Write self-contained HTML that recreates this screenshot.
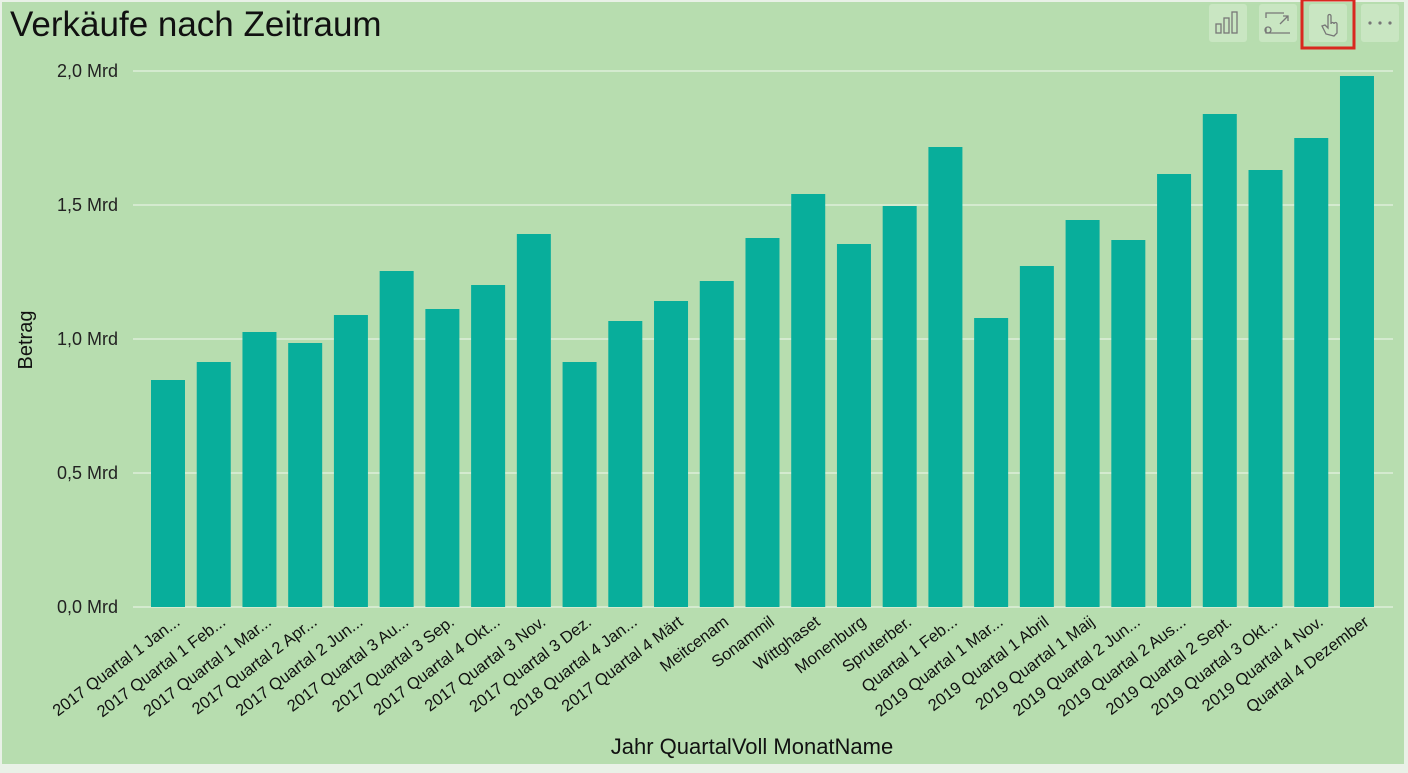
<!DOCTYPE html>
<html><head><meta charset="utf-8"><style>
html,body{margin:0;padding:0;}
body{width:1408px;height:768px;background:#e9f1e7;font-family:"Liberation Sans",sans-serif;overflow:hidden;}
</style></head><body>
<svg width="1408" height="768" xmlns="http://www.w3.org/2000/svg" font-family="Liberation Sans, sans-serif">
<rect x="2" y="2" width="1402" height="762" fill="#b7ddaf"/>
<text x="10" y="36" font-size="35" fill="#111">Verkäufe nach Zeitraum</text>
<g fill="#c9e6c2">
<rect x="1209" y="4" width="38" height="38" rx="3"/>
<rect x="1259" y="4" width="38" height="38" rx="3"/>
<rect x="1309" y="4" width="38" height="38" rx="3"/>
<rect x="1361" y="4" width="38" height="38" rx="3"/>
</g>
<g stroke="#777" stroke-width="1.3" fill="none">
<rect x="1216" y="24" width="5" height="9"/><rect x="1224" y="18" width="5" height="15"/><rect x="1232" y="12" width="5" height="21"/>
<path d="M1266 18 V13 H1284 M1266 28 V33 H1290 M1280 24 L1288 16 M1283 16 H1288 V21"/>
<circle cx="1268" cy="30" r="3"/>
<path d="M1326 34 L1322 26 L1325 25 L1328 28 V16 a1.5 1.5 0 0 1 3 0 V24 a1.5 1.5 0 0 1 3 0 a1.5 1.5 0 0 1 3 0 V33 L1334 36 Z"/>
</g>
<rect x="1302" y="0" width="52" height="48" fill="none" stroke="#d9281f" stroke-width="3"/>
<g fill="#777"><circle cx="1370" cy="23" r="1.6"/><circle cx="1380" cy="23" r="1.6"/><circle cx="1390" cy="23" r="1.6"/></g>
<g stroke="#e6f2e2" stroke-width="1.2">
<line x1="133" y1="71" x2="1393" y2="71"/><line x1="133" y1="205" x2="1393" y2="205"/><line x1="133" y1="339" x2="1393" y2="339"/><line x1="133" y1="473" x2="1393" y2="473"/><line x1="133" y1="607" x2="1393" y2="607"/>
</g>
<g font-size="18" fill="#222" text-anchor="end">
<text x="118" y="77">2,0 Mrd</text><text x="118" y="211">1,5 Mrd</text><text x="118" y="345">1,0 Mrd</text><text x="118" y="479">0,5 Mrd</text><text x="118" y="613">0,0 Mrd</text>
</g>
<text transform="translate(32,340) rotate(-90)" font-size="20" fill="#111" text-anchor="middle">Betrag</text>
<text x="752" y="754" font-size="22" fill="#111" text-anchor="middle">Jahr QuartalVoll MonatName</text>
<g id="bars" fill="#08ae9b"></g>
<g id="labels" font-size="16.5" fill="#111" text-anchor="end"></g>
<script>
var tops=[380,362,332,343,315,271,309,285,234,362,321,301,281,238,194,244,206,147,318,266,220,240,174,114,170,138,76];
var labs=["2017 Quartal 1 Jan...","2017 Quartal 1 Feb...","2017 Quartal 1 Mar...","2017 Quartal 2 Apr...","2017 Quartal 2 Jun...","2017 Quartal 3 Au...","2017 Quartal 3 Sep.","2017 Quartal 4 Okt...","2017 Quartal 3 Nov.","2017 Quartal 3 Dez.","2018 Quartal 4 Jan...","2017 Quartal 4 Märt","Meitcenam","Sonammil","Wittghaset","Monenburg","Spruterber.","Quartal 1 Feb...","2019 Quartal 1 Mar...","2019 Quartal 1 Abril","2019 Quartal 1 Maij","2019 Quartal 2 Jun...","2019 Quartal 2 Aus...","2019 Quartal 2 Sept.","2019 Quartal 3 Okt...","2019 Quartal 4 Nov.","Quartal 4 Dezember"];
var b=document.getElementById('bars'),l=document.getElementById('labels'),ns="http://www.w3.org/2000/svg";
for(var i=0;i<27;i++){var x=151+i*45.73;
var r=document.createElementNS(ns,'rect');r.setAttribute('x',x);r.setAttribute('y',tops[i]);r.setAttribute('width',34);r.setAttribute('height',607-tops[i]);b.appendChild(r);
var t=document.createElementNS(ns,'text');var cx=x+30,cy=624;t.setAttribute('transform','translate('+cx+','+cy+') rotate(-37)');t.textContent=labs[i];l.appendChild(t);}
</script>
</svg>
</body></html>
